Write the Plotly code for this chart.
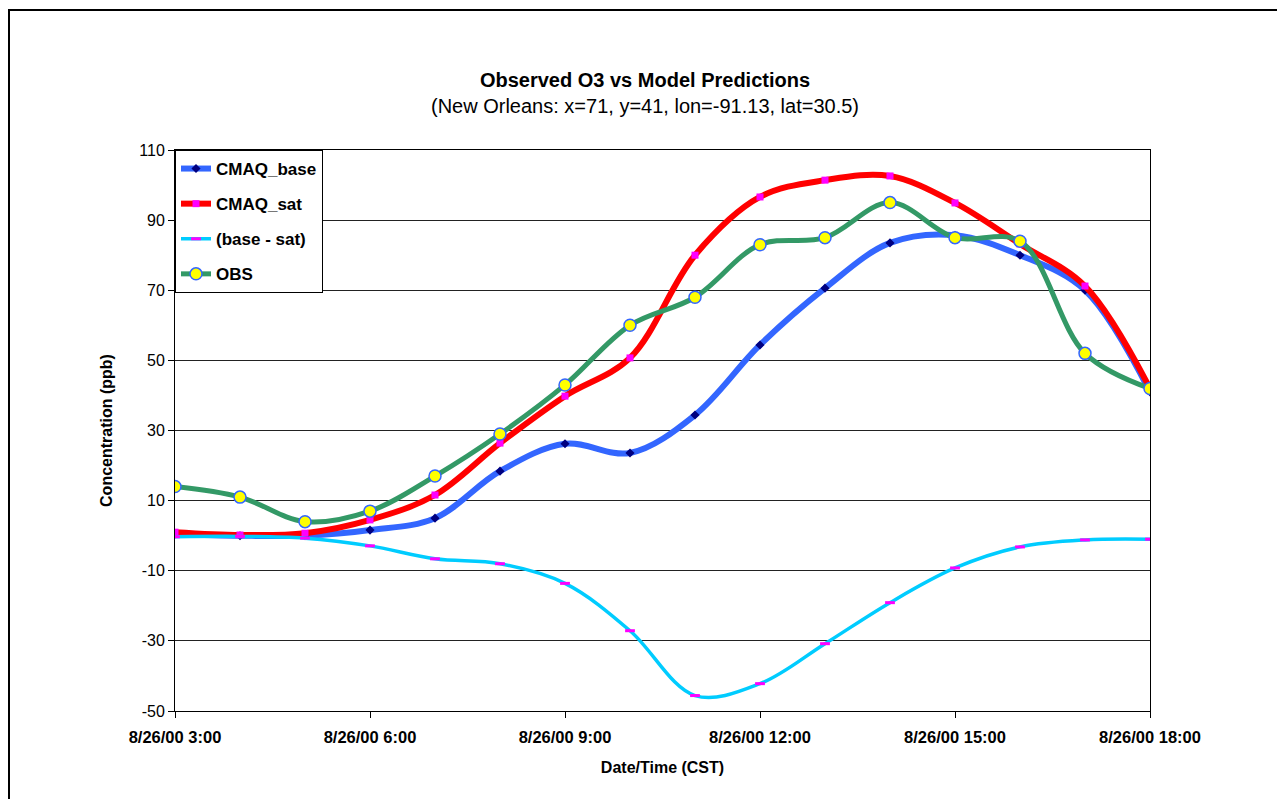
import plotly.graph_objects as go

times = ["2000-08-26 %02d:00" % h for h in range(3, 19)]

cmaq_base = [0.5, 0.0, 0.0, 1.6, 5.0, 18.4, 26.2, 23.6, 34.4, 54.4, 70.6, 83.5, 85.7, 80.0, 70.0, 41.0]
cmaq_sat = [1.0, 0.2, 0.7, 4.5, 11.6, 26.4, 39.8, 50.7, 80.0, 96.6, 101.4, 102.6, 94.9, 83.2, 71.2, 42.0]
base_minus_sat = [-0.3, -0.2, -0.7, -2.9, -6.6, -8.0, -13.6, -27.1, -45.6, -42.2, -30.8, -19.1, -9.2, -3.2, -1.2, -1.0]
obs = [14, 11, 4, 7, 17, 29, 43, 60, 68, 83, 85, 95, 85, 84, 52, 42]

tick_times = ["2000-08-26 03:00", "2000-08-26 06:00", "2000-08-26 09:00",
              "2000-08-26 12:00", "2000-08-26 15:00", "2000-08-26 18:00"]
tick_labels = ["8/26/00 3:00", "8/26/00 6:00", "8/26/00 9:00",
               "8/26/00 12:00", "8/26/00 15:00", "8/26/00 18:00"]
y_ticks = [-50, -30, -10, 10, 30, 50, 70, 90, 110]
y_tick_labels = ["-50", "-30", "-10", "10", "30", "50", "70", "90", "110"]

FONT = "Liberation Sans, Arial, sans-serif"

fig = go.Figure()
fig.add_trace(go.Scatter(
    x=times, y=cmaq_base, name="CMAQ_base", legendgroup="a",
    mode="lines+markers", line=dict(color="#3366FF", width=6, shape="spline", smoothing=1),
    marker=dict(symbol="diamond", color="#000080", size=7)))
fig.add_trace(go.Scatter(
    x=times, y=cmaq_sat, name="CMAQ_sat", legendgroup="b",
    mode="lines+markers", line=dict(color="#FF0000", width=6, shape="spline", smoothing=1),
    marker=dict(symbol="square", color="#FF00FF", size=7)))
fig.add_trace(go.Scatter(
    x=times, y=base_minus_sat, name="(base - sat)", legendgroup="c",
    mode="lines+markers", line=dict(color="#00CCFF", width=3.5, shape="spline", smoothing=1),
    marker=dict(symbol="line-ew", size=7, color="#FF00FF", line=dict(color="#FF00FF", width=3))))
fig.add_trace(go.Scatter(
    x=times, y=obs, name="OBS", legendgroup="d",
    mode="lines+markers", line=dict(color="#339966", width=5, shape="spline", smoothing=1),
    marker=dict(symbol="circle", color="#FFFF00", size=12, line=dict(color="#3366FF", width=1.5))))

fig.update_layout(
    width=1285, height=799, autosize=False,
    margin=dict(l=167, r=143, t=142, b=96),
    paper_bgcolor="white", plot_bgcolor="white",
    font=dict(family=FONT, color="black", size=16),
    title=dict(
        text="<b>Observed O3 vs Model Predictions</b><br>(New Orleans: x=71, y=41, lon=-91.13, lat=30.5)",
        font=dict(family=FONT, size=20, color="black"),
        x=637 / 1285, xanchor="center", xref="container",
        y=1 - 79 / 799, yanchor="middle", yref="container"),
    showlegend=True,
    legend=dict(
        x=0, y=1, xanchor="left", yanchor="top",
        bgcolor="white", bordercolor="black", borderwidth=1,
        font=dict(family=FONT, size=17, color="black", weight="bold"),
        tracegroupgap=10, itemwidth=30),
    shapes=[dict(type="rect", xref="paper", yref="paper",
                 x0=(1 - 167) / 975, x1=1.3, y0=-0.3, y1=(703 - 2) / 561,
                 line=dict(color="black", width=2), fillcolor="rgba(0,0,0,0)", layer="above")],
)

fig.update_xaxes(
    type="date", range=[times[0], times[-1]],
    tickvals=tick_times, ticktext=tick_labels,
    tickfont=dict(family=FONT, size=16.5, color="black", weight="bold"),
    ticks="outside", ticklen=6, tickcolor="black", ticklabelstandoff=5,
    showgrid=False, zeroline=False,
    showline=True, linecolor="black", linewidth=1, mirror=True,
    title=dict(text="<b>Date/Time (CST)</b>", font=dict(family=FONT, size=16, color="black"), standoff=17),
)
fig.update_yaxes(
    range=[-50, 110], tickvals=y_ticks, ticktext=y_tick_labels,
    tickfont=dict(family=FONT, size=16, color="black"),
    ticks="outside", ticklen=6, tickcolor="black",
    showgrid=True, gridcolor="#222222", gridwidth=1, zeroline=False,
    showline=True, linecolor="black", linewidth=1, mirror=True,
    title=dict(text="<b>Concentration (ppb)</b>", font=dict(family=FONT, size=16, color="black"), standoff=22),
)

fig.write_html("out.html")
